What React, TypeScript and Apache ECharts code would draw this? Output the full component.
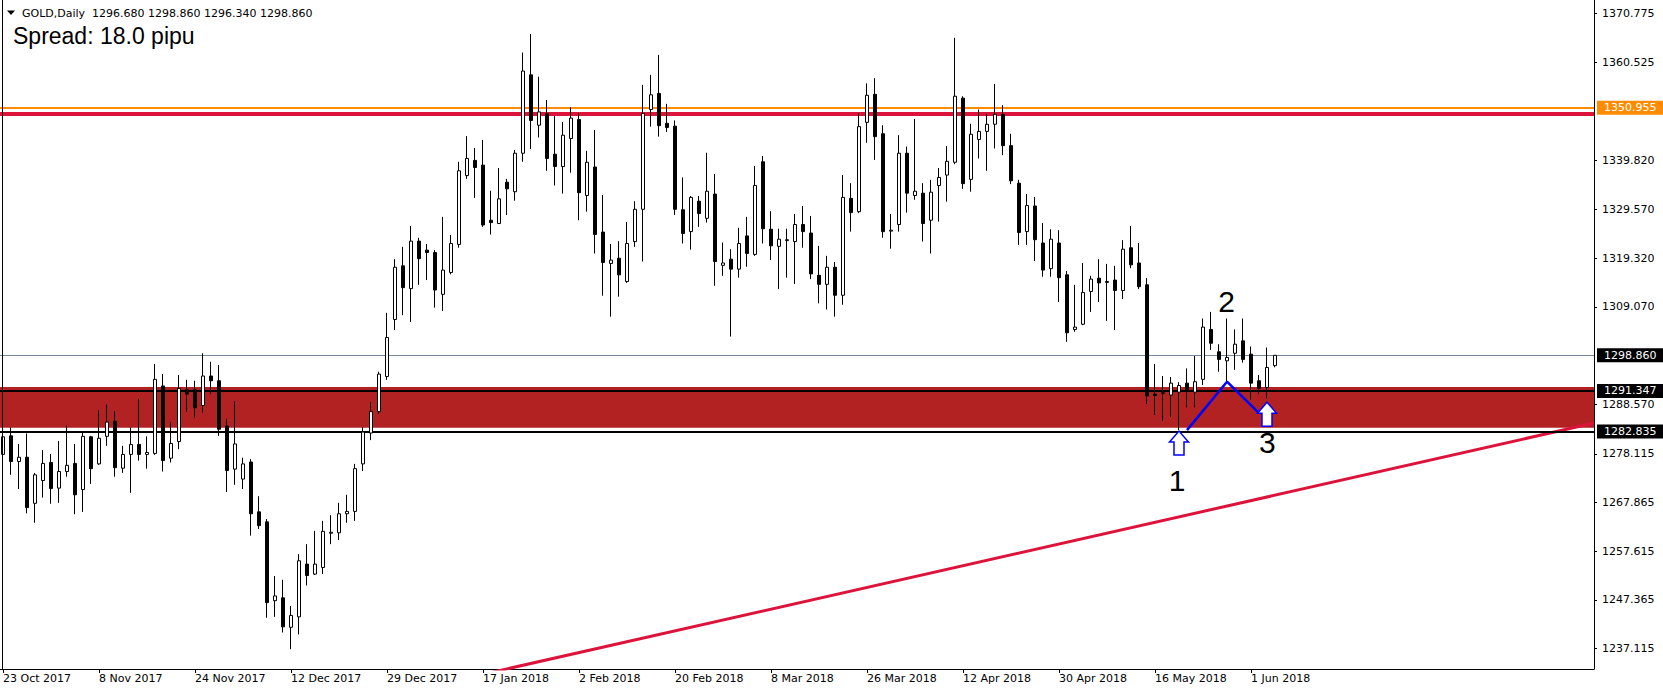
import React, { useEffect, useRef } from 'react';
import * as echarts from 'echarts';

// ---- data ----
const startDate = '2017-10-23';
const holidays = ['2017-12-25', '2018-01-01', '2018-03-30'];
const MONTHS = ['Jan', 'Feb', 'Mar', 'Apr', 'May', 'Jun', 'Jul', 'Aug', 'Sep', 'Oct', 'Nov', 'Dec'];
const labelIndices = [0, 12, 24, 36, 48, 60, 72, 84, 96, 108, 120, 132, 144, 156];
const yTickValues = [1370.775, 1360.525, 1339.82, 1329.57, 1319.32, 1309.07, 1288.57, 1278.115, 1267.865, 1257.615, 1247.365, 1237.115];

const opens = [
  1278.0, 1281.9, 1276.5, 1277.4, 1267.7, 1272.5, 1276.3, 1270.9, 1274.4, 1276.1,
  1270.6, 1281.7, 1276.0, 1281.8, 1285.0, 1275.1, 1278.0, 1280.1, 1278.0, 1278.2,
  1292.4, 1277.2, 1280.7, 1291.6, 1291.6, 1288.3, 1294.5, 1293.5, 1284.0, 1274.9,
  1272.8, 1276.4, 1265.9, 1263.8, 1247.2, 1247.8, 1241.6, 1243.8, 1254.9, 1252.8,
  1254.2, 1261.4, 1261.5, 1265.5, 1266.0, 1276.0, 1282.5, 1287.0, 1294.4, 1306.4,
  1317.7, 1312.9, 1322.9, 1321.0, 1320.5, 1311.7, 1316.3, 1322.2, 1336.7, 1339.9,
  1338.9, 1327.3, 1326.6, 1335.3, 1333.3, 1341.4, 1357.9, 1347.3, 1349.7, 1341.2,
  1338.6, 1344.5, 1348.5, 1332.5, 1338.5, 1324.8, 1318.2, 1319.3, 1314.4, 1322.8,
  1329.6, 1350.6, 1354.0, 1347.7, 1347.1, 1329.5, 1324.9, 1331.3, 1327.7, 1332.8,
  1317.8, 1319.1, 1317.0, 1324.0, 1320.1, 1339.6, 1325.4, 1321.8, 1323.0, 1322.8,
  1326.4, 1324.6, 1315.7, 1313.8, 1317.4, 1311.5, 1331.9, 1329.1, 1347.9, 1353.8,
  1345.5, 1325.0, 1326.4, 1341.4, 1332.5, 1333.0, 1327.3, 1334.6, 1336.8, 1339.5,
  1353.0, 1335.9, 1344.3, 1346.0, 1347.5, 1349.6, 1343.0, 1335.1, 1324.9, 1330.3,
  1322.5, 1317.1, 1322.5, 1315.8, 1304.3, 1305.4, 1312.3, 1315.1, 1314.2, 1314.7,
  1312.5, 1321.5, 1318.3, 1313.7, 1290.7, 1290.8, 1290.5, 1291.1, 1293.0, 1291.1,
  1293.8, 1304.3, 1299.6, 1297.7, 1299.3, 1301.9, 1299.1, 1293.5, 1292.1, 1296.68,
];
const closes = [
  1281.7, 1276.5, 1277.4, 1266.8, 1273.7, 1276.1, 1270.8, 1274.4, 1275.7, 1269.5,
  1281.8, 1275.0, 1281.4, 1284.8, 1275.2, 1278.0, 1280.1, 1278.0, 1278.4, 1293.8,
  1276.7, 1280.3, 1291.9, 1290.7, 1287.8, 1294.5, 1293.5, 1283.3, 1274.6, 1280.2,
  1276.0, 1265.5, 1263.0, 1246.8, 1248.2, 1241.7, 1244.1, 1255.6, 1252.5, 1254.9,
  1261.8, 1261.6, 1265.5, 1266.0, 1275.0, 1282.7, 1287.0, 1294.9, 1302.6, 1317.4,
  1313.1, 1322.9, 1319.2, 1320.5, 1312.6, 1316.8, 1322.4, 1337.7, 1340.3, 1338.4,
  1326.3, 1326.8, 1331.8, 1333.9, 1341.4, 1358.7, 1348.3, 1350.1, 1340.3, 1338.6,
  1345.2, 1348.8, 1333.1, 1339.5, 1324.3, 1318.4, 1318.9, 1315.8, 1322.4, 1329.6,
  1349.8, 1353.7, 1347.2, 1346.8, 1329.6, 1324.5, 1332.1, 1328.7, 1333.4, 1318.6,
  1318.3, 1317.0, 1322.4, 1320.3, 1334.6, 1325.5, 1321.9, 1323.3, 1323.2, 1326.4,
  1324.9, 1316.0, 1313.8, 1317.4, 1311.5, 1332.1, 1328.9, 1347.0, 1353.6, 1344.9,
  1324.9, 1325.2, 1341.4, 1333.0, 1333.4, 1326.6, 1333.2, 1336.3, 1339.7, 1353.4,
  1335.0, 1345.4, 1346.0, 1347.5, 1349.6, 1343.0, 1335.6, 1324.7, 1330.4, 1323.2,
  1316.8, 1323.3, 1315.2, 1303.6, 1304.8, 1312.1, 1314.9, 1314.1, 1314.4, 1312.5,
  1321.2, 1317.9, 1313.3, 1290.3, 1290.4, 1291.0, 1293.0, 1292.5, 1291.4, 1293.3,
  1304.8, 1301.4, 1298.0, 1298.4, 1301.2, 1298.0, 1293.0, 1291.9, 1296.3, 1298.86,
];
const highs = [
  1283.1, 1283.7, 1280.2, 1282.4, 1274.1, 1278.9, 1278.1, 1280.8, 1284.1, 1280.2,
  1282.7, 1281.9, 1287.3, 1288.5, 1287.1, 1279.8, 1283.7, 1289.7, 1281.8, 1297.0,
  1294.9, 1284.8, 1294.7, 1293.7, 1293.5, 1299.3, 1297.5, 1296.8, 1285.5, 1289.2,
  1277.3, 1277.0, 1269.2, 1264.4, 1252.4, 1251.6, 1246.1, 1257.0, 1259.1, 1261.9,
  1264.0, 1265.2, 1267.8, 1269.5, 1276.0, 1283.8, 1289.0, 1295.4, 1307.8, 1319.1,
  1321.7, 1326.1, 1323.6, 1322.3, 1321.0, 1328.0, 1324.2, 1339.6, 1345.0, 1342.5,
  1344.2, 1333.5, 1338.3, 1336.0, 1342.1, 1362.6, 1366.5, 1357.5, 1352.6, 1349.2,
  1348.0, 1351.1, 1349.8, 1341.9, 1346.3, 1332.6, 1322.3, 1322.9, 1326.9, 1331.3,
  1355.8, 1357.9, 1362.1, 1351.8, 1348.3, 1336.3, 1332.4, 1332.4, 1341.5, 1337.0,
  1322.6, 1321.2, 1325.7, 1328.0, 1338.7, 1340.8, 1329.2, 1325.5, 1325.5, 1328.6,
  1330.3, 1328.2, 1321.9, 1319.8, 1318.5, 1336.8, 1335.1, 1349.8, 1356.1, 1357.2,
  1347.3, 1328.6, 1345.2, 1342.8, 1348.6, 1335.1, 1335.8, 1338.3, 1342.9, 1365.7,
  1353.4, 1347.6, 1350.6, 1349.7, 1356.0, 1351.5, 1345.5, 1335.8, 1332.8, 1332.2,
  1326.7, 1325.4, 1325.2, 1316.6, 1313.7, 1318.3, 1315.6, 1319.1, 1318.1, 1317.7,
  1323.1, 1326.1, 1322.5, 1315.1, 1297.0, 1294.5, 1294.3, 1293.2, 1296.1, 1298.7,
  1306.6, 1308.0, 1301.2, 1306.6, 1304.3, 1306.6, 1300.7, 1294.7, 1300.5, 1298.86,
];
const lows = [
  1272.6, 1273.7, 1270.7, 1265.6, 1263.6, 1268.9, 1267.6, 1267.8, 1273.3, 1265.4,
  1265.9, 1271.8, 1275.8, 1279.8, 1273.3, 1274.1, 1269.9, 1276.7, 1275.0, 1277.9,
  1274.4, 1276.3, 1279.1, 1287.0, 1285.7, 1286.8, 1290.7, 1281.9, 1270.1, 1271.6,
  1270.7, 1260.9, 1262.3, 1243.6, 1243.8, 1240.5, 1237.0, 1240.1, 1250.4, 1252.6,
  1252.8, 1259.1, 1260.0, 1263.6, 1264.0, 1274.5, 1281.0, 1286.5, 1293.7, 1304.2,
  1307.3, 1305.9, 1313.7, 1314.7, 1308.9, 1308.2, 1315.9, 1321.5, 1336.0, 1332.0,
  1325.9, 1324.3, 1326.5, 1328.4, 1331.4, 1339.6, 1342.3, 1344.7, 1337.7, 1334.6,
  1332.9, 1337.3, 1327.3, 1329.1, 1320.3, 1311.4, 1307.0, 1311.2, 1314.1, 1321.7,
  1318.6, 1347.0, 1344.9, 1345.9, 1328.4, 1322.4, 1321.1, 1325.9, 1326.8, 1313.5,
  1315.6, 1302.8, 1315.2, 1317.5, 1319.8, 1322.4, 1318.9, 1312.8, 1315.2, 1313.9,
  1321.5, 1314.9, 1309.8, 1308.5, 1307.0, 1309.5, 1324.9, 1328.8, 1343.6, 1340.0,
  1323.6, 1321.3, 1324.9, 1328.9, 1331.6, 1322.8, 1320.3, 1327.0, 1331.2, 1339.1,
  1333.9, 1333.3, 1340.3, 1337.7, 1342.4, 1341.0, 1334.9, 1322.1, 1322.1, 1318.7,
  1315.4, 1315.4, 1310.1, 1301.7, 1303.8, 1305.2, 1308.0, 1310.1, 1306.1, 1304.2,
  1310.7, 1317.2, 1312.8, 1288.6, 1286.3, 1285.1, 1285.9, 1283.1, 1287.9, 1287.9,
  1292.6, 1300.0, 1295.4, 1293.3, 1295.8, 1297.3, 1289.5, 1290.7, 1289.8, 1296.34,
];

// horizontal levels
const resistanceOrange = 1350.955;
const resistanceRed = 1349.8;
const bidPrice = 1298.86;
const zoneTopLine = 1291.347;
const zoneBottomLine = 1282.835;
const zoneTop = 1292.2;
const zoneBottom = 1283.6;
// trend line (bar index, price)
const trendLine = [[50, 1227.9], [198.875, 1284.6]];
// pattern polyline (bar index, price)
const patternLine = [[148, 1283.1], [153, 1293.3], [157, 1286.7]];
// annotations
const arrowTips = [[147, 1282.9], [158, 1289.0]];
const numberLabels = [
  { text: '1', k: 146.75, p: 1272.5 },
  { text: '2', k: 152.96, p: 1310.15 },
  { text: '3', k: 158.04, p: 1280.5 },
];
const headerText = 'GOLD,Daily  1296.680 1298.860 1296.340 1298.860';
const spreadText = 'Spread: 18.0 pipu';

function tradingDates(n: number): string[] {
  const out: string[] = [];
  const d = new Date(startDate + 'T00:00:00Z');
  while (out.length < n) {
    const iso = d.toISOString().slice(0, 10);
    const wd = d.getUTCDay();
    if (wd !== 0 && wd !== 6 && !holidays.includes(iso)) {
      out.push(`${d.getUTCDate()} ${MONTHS[d.getUTCMonth()]} ${d.getUTCFullYear()}`);
    }
    d.setUTCDate(d.getUTCDate() + 1);
  }
  return out;
}

const dates = tradingDates(200);
const candleData = opens.map((o, i) => [i, o, closes[i], lows[i], highs[i]]);

const FONT = 'DejaVu Sans';

export default function App() {
  const ref = useRef<HTMLDivElement>(null);
  useEffect(() => {
    document.body.style.margin = '0';
    const el = ref.current as HTMLDivElement;
    const chart = echarts.init(el, null, { renderer: 'svg', width: 1663, height: 692 });
    const option: any = {
      animation: false,
      backgroundColor: '#ffffff',
      grid: { left: 0, right: 69, top: 0, bottom: 23, containLabel: false, outerBoundsMode: 'none' },
      xAxis: {
        type: 'value',
        min: -0.375,
        max: 198.875,
        axisLine: { show: true, onZero: false, lineStyle: { color: '#000', width: 1 } },
        axisTick: { show: true, length: 4, customValues: labelIndices, lineStyle: { color: '#000' } },
        axisLabel: {
          customValues: labelIndices,
          formatter: (v: number) => dates[Math.round(v)],
          align: 'left',
          margin: 4,
          fontFamily: FONT,
          fontSize: 11,
          color: '#000',
        },
        splitLine: { show: false },
      },
      yAxis: {
        type: 'value',
        position: 'right',
        min: 1232.82,
        max: 1373.66,
        axisLine: { show: true, onZero: false, lineStyle: { color: '#000', width: 1 } },
        axisTick: { show: true, length: 3, customValues: yTickValues, lineStyle: { color: '#000' } },
        axisLabel: {
          customValues: yTickValues,
          formatter: (v: number) => v.toFixed(3),
          margin: 8,
          fontFamily: FONT,
          fontSize: 11,
          color: '#000',
        },
        splitLine: { show: false },
      },
      series: [
        {
          type: 'line',
          data: [],
          z: 1,
          silent: true,
          markArea: {
            silent: true,
            itemStyle: { color: '#B22222', opacity: 1 },
            data: [[{ yAxis: zoneTop }, { yAxis: zoneBottom }]],
          },
          markLine: {
            silent: true,
            symbol: ['none', 'none'],
            label: { show: false },
            data: [
              { yAxis: resistanceOrange, lineStyle: { color: '#FF8C00', width: 2, type: 'solid' } },
              { yAxis: resistanceRed, lineStyle: { color: '#DC143C', width: 4, type: 'solid' } },
              { yAxis: bidPrice, lineStyle: { color: '#778899', width: 1, type: 'solid' } },
              { yAxis: zoneTopLine, lineStyle: { color: '#000000', width: 2, type: 'solid' } },
              { yAxis: zoneBottomLine, lineStyle: { color: '#000000', width: 2, type: 'solid' } },
            ],
          },
        },
        {
          type: 'line',
          data: trendLine,
          z: 2,
          clip: true,
          silent: true,
          showSymbol: false,
          symbol: 'none',
          lineStyle: { color: '#DC143C', width: 3 },
        },
        {
          type: 'candlestick',
          data: candleData,
          z: 10,
          barWidth: 4,
          silent: true,
          itemStyle: {
            color: '#ffffff',
            color0: '#000000',
            borderColor: '#000000',
            borderColor0: '#000000',
            borderColorDoji: '#000000',
            borderWidth: 1,
          },
        },
        {
          type: 'line',
          data: patternLine,
          z: 12,
          silent: true,
          showSymbol: false,
          symbol: 'none',
          lineStyle: { color: '#0000FF', width: 2.5 },
        },
      ],
    };
    chart.setOption(option);

    const px = (k: number, p: number) => chart.convertToPixel({ xAxisIndex: 0, yAxisIndex: 0 }, [k, p]) as number[];
    const py = (p: number) => chart.convertToPixel({ yAxisIndex: 0 }, p) as number;

    const graphics: any[] = [];
    // left frame line
    graphics.push({ type: 'line', z: 100, shape: { x1: 2.5, y1: 0, x2: 2.5, y2: 669 }, style: { stroke: '#000', lineWidth: 1 } });
    // header
    graphics.push({ type: 'polygon', z: 100, shape: { points: [[7, 10.5], [15, 10.5], [11, 15]] }, style: { fill: '#000' } });
    graphics.push({ type: 'text', z: 100, x: 22, y: 13, style: { text: headerText, fontFamily: FONT, fontSize: 11, fill: '#000', align: 'left', verticalAlign: 'middle' } });
    graphics.push({ type: 'text', z: 100, x: 13, y: 36, style: { text: spreadText, fontFamily: 'Liberation Sans', fontSize: 23, fill: '#000', align: 'left', verticalAlign: 'middle' } });

    // price boxes on the right axis
    const boxes = [
      { p: resistanceOrange, bg: '#FF8C00' },
      { p: bidPrice, bg: '#000000' },
      { p: zoneTopLine, bg: '#000000' },
      { p: zoneBottomLine, bg: '#000000' },
    ];
    boxes.forEach((b) => {
      const y = py(b.p);
      graphics.push({ type: 'rect', z: 110, shape: { x: 1597, y: y - 7, width: 66, height: 14 }, style: { fill: b.bg } });
      graphics.push({ type: 'text', z: 111, x: 1604, y: y, style: { text: b.p.toFixed(3), fontFamily: FONT, fontSize: 11, fill: '#fff', align: 'left', verticalAlign: 'middle' } });
    });

    // arrows
    arrowTips.forEach(([k, p]) => {
      const [tx, ty] = px(k, p);
      graphics.push({
        type: 'polygon',
        z: 120,
        shape: {
          points: [
            [tx, ty], [tx + 9.5, ty + 11], [tx + 5, ty + 11], [tx + 5, ty + 24],
            [tx - 5, ty + 24], [tx - 5, ty + 11], [tx - 9.5, ty + 11],
          ],
        },
        style: { fill: '#ffffff', stroke: '#0000FF', lineWidth: 1.5 },
      });
    });

    // number labels
    numberLabels.forEach((n) => {
      const [x, y] = px(n.k, n.p);
      graphics.push({ type: 'text', z: 120, x, y, style: { text: n.text, fontFamily: 'Liberation Sans', fontSize: 30, fill: '#000', align: 'center', verticalAlign: 'middle' } });
    });

    chart.setOption({ graphic: graphics });

    return () => {
      chart.dispose();
    };
  }, []);
  return <div ref={ref} style={{ position: 'fixed', left: 0, top: 0, width: 1663, height: 692, background: '#fff' }} />;
}
